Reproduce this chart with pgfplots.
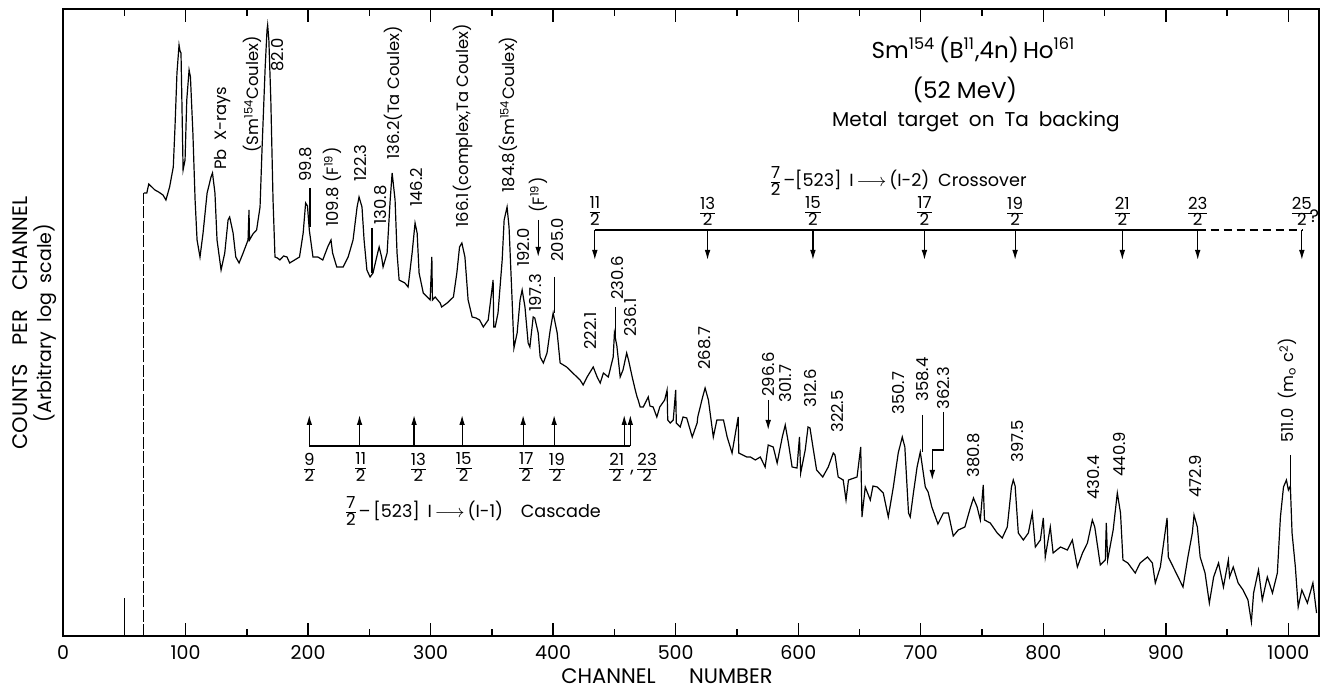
\documentclass[border=0pt]{standalone}
\usepackage{fontspec}
\setmainfont{Poppins}
\usepackage{pgfplots}
\pgfplotsset{compat=1.18}
\usetikzlibrary{arrows.meta}
\newcommand{\fr}[2]{{\fontsize{8.3}{8.3}\selectfont\renewcommand{\arraystretch}{0.72}\setlength{\tabcolsep}{0pt}\begin{tabular}{c}#1\\\hline #2\end{tabular}}}
\begin{document}
\begin{tikzpicture}[
  lab/.style={rotate=90, anchor=west, inner sep=0pt, font=\fontsize{8.2}{9}\selectfont},
  arr/.style={line width=0.6pt, -{Latex[length=5pt,width=2.8pt]}}]
\begin{axis}[
  scale only axis, width=628pt, height=313.5pt,
  at={(0,0)}, anchor=south west,
  xmin=0, xmax=1025, ymin=0, ymax=627,
  axis line style={line width=1pt},
  xtick={0,100,...,1000}, minor xtick={50,150,...,1000},
  xtick pos=both, tick align=inside,
  major tick length=6.5pt, minor tick length=3.5pt,
  every tick/.style={line width=0.7pt, black},
  ytick=\empty,
  /pgf/number format/assume math mode=true,
  /pgf/number format/1000 sep={},
  xticklabel style={font=\fontsize{9.5}{11}\selectfont, yshift=-1pt},
  clip=false,
]
% main spectrum
\addplot[black, line width=0.6pt] coordinates {
(66,443)(68.4,443)(70,452)(72.5,449)(75,446)(78,444)(81.6,441)(84,436)(87,449)(90,469)
(91.4,509)(93,563)(94.7,591)(95.5,585)(96.3,583)(97,536)(98,466)(99.6,476)(101,536)(102.9,566)
(104,559)(106,503)(107.8,436)(109.4,396)(111.8,379)(114.3,403)(117.6,443)(120.8,459)(122,463)(124,443)
(125.7,396)(129,366)(132,383)(134.7,416)(136,419)(138.8,403)(141,379)(143.7,373)(147,383)(151,396)
(151.8,426)(152.2,396)(155,402)(158,406)(160.8,429)(162.4,486)(165,569)(166.5,606)(167,611)(168,596)
(169.6,536)(171.4,436)(173,379)(175,378)(177,376)(180,380)(182.8,379)(185,373)(189,376)(193,379)
(196,403)(198,433)(199.5,430)(201,406)(204,379)(208,379)(212,376)(216,389)(218.7,396)(220,383)
(223.4,369)(228.6,369)(232.7,379)(236.7,396)(240,429)(241.6,439)(244,429)(245.7,396)(248,366)(250.6,359)
(253,363)(256,379)(258,389)(260,379)(261.2,369)(264.5,383)(267,436)(268.6,463)(271,436)(272.6,383)
(274.3,356)(279,353)(281.6,349)(284.9,383)(287.3,413)(289,403)(290.6,363)(294,343)(299.6,336)(301,379)
(301.5,336)(303.7,339)(307.8,333)(309,329)(313.5,333)(318.6,339)(321.4,363)(323.6,389)(325.5,393)(328,379)
(330.6,336)(333.9,319)(337,318)(340,316)(343,309)(347,316)(351,356)(351.5,309)(352.7,309)(355,323)
(358.4,376)(360,416)(362.4,429)(364,409)(366.5,336)(368,288)(370.6,303)(373,336)(374.7,346)(377,329)
(379.6,293)(381,289)(383.7,319)(385,318)(387.8,303)(389.4,279)(392,273)(395,283)(397.6,306)(400,323)
(403.3,303)(405.7,273)(411,269)(416,263)(422,256)(424.5,251)(427.7,259)(432.7,269)(435.9,259)(438.4,253)
(441,263)(445,259)(449,279)(450,303)(452,290)(454.7,259)(457,266)(460,283)(461.5,276)(464.5,259)
(467,246)(468.5,239)(469.4,236)(471,229)(473.5,229)(477.6,239)(479,230)(481.6,229)(484.6,219)(487,229)
(491,236)(493,246)(493.5,216)(495.5,213)(498,216)(500,246)(500.5,213)(503.7,209)(506,219)(509,218)
(513.5,199)(517.5,213)(518,219)(522,239)(524,248)(526.7,236)(530.7,199)(533.6,216)(539,216)(542,199)
(546,183)(551,219)(551.5,183)(558,179)(561,179)(565,176)(569,179)(573,169)(575.5,191)(579.6,189)
(582.8,173)(587,199)(589.4,211)(592,193)(595,169)(599,168)(601,199)(602,163)(605.7,186)(608,209)
(609.6,208)(612,189)(615,166)(620,159)(624.5,169)(628.6,183)(630,181)(632.6,159)(636.7,156)(639,136)
(641,156)(648,159)(651,189)(652,119)(654.7,149)(658.8,136)(661,150)(664.5,149)(669.4,143)(673.5,119)
(677.6,149)(681.6,183)(684.9,199)(687,189)(690,123)(691.4,119)(694,143)(697,169)(699.6,184)(703.7,149)
(706,144)(709,129)(714,112)(718.5,123)(722.5,123)(726.5,100)(730.6,106)(736,109)(740.4,128)(743,138)
(746,129)(748.6,116)(751,151)(752,116)(756.7,113)(762.4,103)(766.5,98)(770.6,109)(774,149)(775.5,156)
(777,150)(779.6,103)(783.7,96)(787.8,103)(791,123)(793.5,89)(797.6,96)(800,118)(801.6,79)(805.7,109)
(808,83)(814,89)(819.6,86)(823.7,96)(827.8,69)(832,83)(836,93)(840,116)(842,109)(846.5,71)
(850.6,76)(851.4,113)(852.5,76)(857,106)(860.4,143)(863,123)(865,76)(869,73)(875,63)(879,73)
(885,79)(889,73)(891.4,53)(895.5,69)(901,118)(902,79)(906,69)(910,59)(914,49)(918,79)
(921.6,103)(923,121)(925.7,109)(928,79)(932,63)(935.5,33)(939,59)(943,73)(947,49)(951,76)
(952,59)(955,69)(959,53)(963,46)(967,36)(969.8,14)(971.6,43)(975.6,66)(978.7,36)(982.8,59)
(987,43)(991,63)(993.5,119)(996,149)(998.4,156)(1000,146)(1001.6,150)(1003,103)(1005.7,69)(1008,29)
(1011,46)(1015.5,33)(1020,53)(1023,23)
};
% start of spectrum and spike at channel 50
\addplot[black, line width=0.5pt, dash pattern=on 6pt off 1.2pt] coordinates {(65.5,0)(65.5,443)};
\addplot[black, line width=0.6pt] coordinates {(50,0)(50,38)};

% leader lines
\draw[line width=0.6pt] (axis cs:201.6,448) -- (axis cs:201.6,409);
\draw[line width=0.6pt] (axis cs:252.2,408) -- (axis cs:252.2,363);
\draw[line width=0.6pt] (axis cs:400.8,359) -- (axis cs:400.8,323);
\draw[line width=0.6pt] (axis cs:451.2,329) -- (axis cs:451.2,295);
\draw[line width=0.6pt] (axis cs:701.2,221) -- (axis cs:701.2,184);
\draw[line width=0.6pt] (axis cs:1001.6,181) -- (axis cs:1001.6,150);
\draw[arr] (axis cs:387.8,416) -- (axis cs:387.8,379);
\draw[arr] (axis cs:575.5,236) -- (axis cs:575.5,206);
\draw[arr] (axis cs:718.4,224) -- (axis cs:718.4,186) -- (axis cs:709.4,186) -- (axis cs:709.4,156);

% peak labels
\node[lab] at (axis cs:129.8,466) {Pb\enspace X-rays};
\node[lab] at (axis cs:154.3,483) {(Sm\textsuperscript{154}Coulex)};
\node[lab] at (axis cs:175.5,564) {82.0};
\node[lab] at (axis cs:197.6,454) {99.8};
\node[lab] at (axis cs:219.6,409) {109.8 (F\textsuperscript{19})};
\node[lab] at (axis cs:242.4,454) {122.3};
\node[lab] at (axis cs:258.8,411) {130.8};
\node[lab] at (axis cs:269.4,476) {136.2(Ta Coulex)};
\node[lab] at (axis cs:288.2,429) {146.2};
\node[lab] at (axis cs:326.5,408) {166.1(complex,Ta Coulex)};
\node[lab] at (axis cs:363.3,443) {184.8(Sm\textsuperscript{154}Coulex)};
\node[lab] at (axis cs:375.5,369) {192.0};
\node[lab] at (axis cs:385.3,324) {197.3};
\node[lab] at (axis cs:387.8,423) {(F\textsuperscript{19})};
\node[lab] at (axis cs:403.3,374) {205.0};
\node[lab] at (axis cs:430.2,286) {222.1};
\node[lab] at (axis cs:452.2,336) {230.6};
\node[lab] at (axis cs:462.9,299) {236.1};
\node[lab] at (axis cs:524,266) {268.7};
\node[lab] at (axis cs:575.5,239) {296.6};
\node[lab] at (axis cs:589.4,233) {301.7};
\node[lab] at (axis cs:609.8,228) {312.6};
\node[lab] at (axis cs:631.8,203) {322.5};
\node[lab] at (axis cs:681.6,221) {350.7};
\node[lab] at (axis cs:701.2,234) {358.4};
\node[lab] at (axis cs:718.4,226) {362.3};
\node[lab] at (axis cs:742.9,158) {380.8};
\node[lab] at (axis cs:778.8,173) {397.5};
\node[lab] at (axis cs:840.8,136) {430.4};
\node[lab] at (axis cs:862,159) {440.9};
\node[lab] at (axis cs:924,138) {472.9};
\node[lab] at (axis cs:999.2,193) {511.0\enspace(m\textsubscript{o} c\textsuperscript{2})};

% title block
\node[font=\fontsize{11.5}{13}\selectfont] at (axis cs:743,586) {Sm\textsuperscript{154}\,(B\textsuperscript{11},4n)\,Ho\textsuperscript{161}};
\node[font=\fontsize{11.5}{13}\selectfont] at (axis cs:736,546) {(52 MeV)};
\node[font=\fontsize{10}{12}\selectfont] at (axis cs:745,514) {Metal\enspace target\enspace on\enspace Ta\enspace backing};

% crossover band
\node[font=\fontsize{8.8}{10}\selectfont] at (axis cs:682,453) {\fr{7}{2}\,--[523]\, I\,$\longrightarrow$\,(I-2)\enspace Crossover};
\draw[line width=0.7pt] (axis cs:434,406) -- (axis cs:926,406);
\draw[line width=0.7pt, dash pattern=on 4pt off 2.5pt] (axis cs:926,406) -- (axis cs:1011,406);
\draw[arr] (axis cs:434,406) -- (axis cs:434,376);
\draw[arr] (axis cs:526,406) -- (axis cs:526,376);
\draw[arr] (axis cs:612,406) -- (axis cs:612,376);
\draw[arr] (axis cs:703,406) -- (axis cs:703,376);
\draw[arr] (axis cs:777,406) -- (axis cs:777,376);
\draw[arr] (axis cs:864.5,406) -- (axis cs:864.5,376);
\draw[arr] (axis cs:926,406) -- (axis cs:926,376);
\draw[arr] (axis cs:1011,406) -- (axis cs:1011,376);
\node at (axis cs:434,423) {\fr{11}{2}};
\node at (axis cs:526,423) {\fr{13}{2}};
\node at (axis cs:612,423) {\fr{15}{2}};
\node at (axis cs:703,423) {\fr{17}{2}};
\node at (axis cs:777,423) {\fr{19}{2}};
\node at (axis cs:864.5,423) {\fr{21}{2}};
\node at (axis cs:926,423) {\fr{23}{2}};
\node at (axis cs:1011,423) {\fr{25}{2}};
\node[font=\fontsize{9}{10}\selectfont, anchor=west, inner sep=0pt] at (axis cs:1017,420) {?};

% cascade band
\draw[line width=0.7pt] (axis cs:201,190) -- (axis cs:463,190);
\draw[arr] (axis cs:201,190) -- (axis cs:201,221);
\draw[arr] (axis cs:242,190) -- (axis cs:242,221);
\draw[arr] (axis cs:286.5,190) -- (axis cs:286.5,221);
\draw[arr] (axis cs:325.7,190) -- (axis cs:325.7,221);
\draw[arr] (axis cs:375.5,190) -- (axis cs:375.5,221);
\draw[arr] (axis cs:400.8,190) -- (axis cs:400.8,221);
\draw[arr] (axis cs:458,190) -- (axis cs:458,221);
\draw[arr] (axis cs:463,190) -- (axis cs:463,221);
\node at (axis cs:201,167) {\fr{9}{2}};
\node at (axis cs:243,167) {\fr{11}{2}};
\node at (axis cs:290,167) {\fr{13}{2}};
\node at (axis cs:327,167) {\fr{15}{2}};
\node at (axis cs:378,167) {\fr{17}{2}};
\node at (axis cs:403,167) {\fr{19}{2}};
\node at (axis cs:452,167) {\fr{21}{2}};
\node at (axis cs:476.7,167) {\fr{23}{2}};
\node[font=\fontsize{9}{10}\selectfont] at (axis cs:464.5,163) {,};
\node[font=\fontsize{8.8}{10}\selectfont] at (axis cs:335,123) {\fr{7}{2}\,--\,[523]\, I\,$\longrightarrow$\,(I-1)\quad Cascade};
\end{axis}
% axis titles (placed in absolute coordinates; axis rectangle is 628pt x 313.5pt at the origin)
\node[font=\fontsize{10.5}{12}\selectfont] at (302pt,-20pt) {CHANNEL\hspace{1.6em}NUMBER};
\node[rotate=90, font=\fontsize{10.5}{12}\selectfont] at (-21.5pt,156.5pt) {COUNTS\hspace{0.9em}PER\hspace{0.9em}CHANNEL};
\node[rotate=90, font=\fontsize{9.5}{11}\selectfont] at (-9pt,156.5pt) {(Arbitrary\enspace log\enspace scale)};
\pgfresetboundingbox
\useasboundingbox (-31.5pt,-27pt) rectangle (634pt,318pt);
\end{tikzpicture}
\end{document}
